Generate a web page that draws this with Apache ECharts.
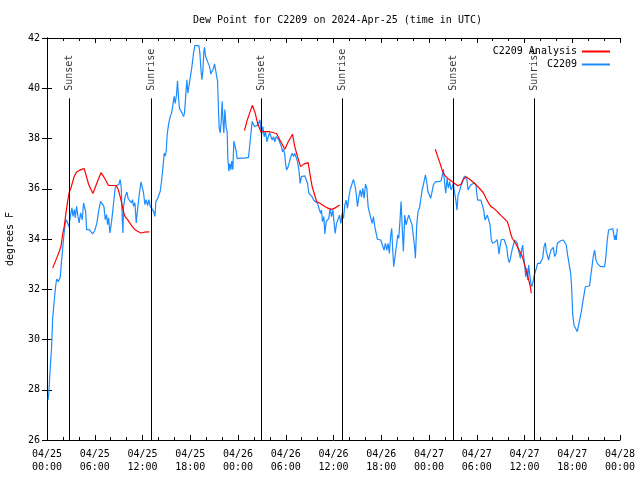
<!DOCTYPE html>
<html>
<head>
<meta charset="utf-8">
<script src="https://cdn.jsdelivr.net/npm/echarts@6/dist/echarts.min.js"></script>
<style>html,body{margin:0;padding:0;background:#fff}#c{width:640px;height:480px}</style>
</head>
<body>
<div id="c"></div>
<script>
// Hours since 2024-04-25 00:00 UTC
const xTickLabels = ['04/25\n00:00','04/25\n06:00','04/25\n12:00','04/25\n18:00','04/26\n00:00','04/26\n06:00','04/26\n12:00','04/26\n18:00','04/27\n00:00','04/27\n06:00','04/27\n12:00','04/27\n18:00','04/28\n00:00'];
const yTicks = [26,28,30,32,34,36,38,40,42];

const sunNames = ['Sunset','Sunrise','Sunset','Sunrise','Sunset','Sunrise'];
const sunHours = [2.8, 13.1, 26.93, 37.11, 51.06, 61.24];

const blueHours = [0.15,0.25,0.41,0.58,0.71,0.92,1.08,1.21,1.42,1.67,1.84,2.09,2.26,2.42,2.59,2.76,2.93,3.13,3.26,3.43,3.55,3.72,3.89,4.05,4.22,4.43,4.6,4.76,4.85,4.98,5.31,5.73,6.02,6.27,6.52,6.73,6.9,7.15,7.32,7.49,7.61,7.74,7.91,8.12,8.28,8.41,8.58,8.7,8.87,9.03,9.2,9.33,9.46,9.54,9.62,9.83,10.04,10.21,10.42,10.63,10.75,10.88,11.05,11.21,11.38,11.59,11.8,11.97,12.13,12.3,12.47,12.64,12.81,12.97,13.14,
13.39,13.56,13.68,13.89,14.1,14.23,14.39,14.56,14.73,14.85,14.98,15.1,15.27,15.48,15.65,15.82,15.98,16.11,16.28,16.4,16.53,16.65,16.82,16.99,17.16,17.28,17.41,17.57,17.7,17.87,17.99,18.16,18.29,18.41,18.58,19.08,19.21,19.33,19.46,19.58,19.71,19.79,19.92,20.09,20.25,20.42,20.59,20.76,20.92,21.05,21.3,21.43,21.55,21.63,21.76,21.89,22.01,22.1,22.22,22.35,22.51,22.64,22.72,22.85,22.97,23.1,23.22,23.35,23.48,23.6,23.77,23.9,24.27,24.9,25.32,25.44,25.61,25.78,25.9,26.07,26.28,26.45,
26.75,26.87,26.96,27.12,27.29,27.46,27.63,27.8,27.96,28.13,28.3,28.47,28.63,28.8,28.97,29.14,29.3,29.47,29.6,29.72,29.89,29.97,30.1,30.31,30.52,30.64,30.81,30.98,31.14,31.35,31.48,31.65,31.81,31.98,32.15,32.4,32.65,32.74,32.9,33.15,33.32,33.49,33.74,33.99,34.2,34.37,34.49,34.62,34.79,34.91,35.08,35.25,35.41,35.58,35.75,35.92,36.08,36.21,36.38,36.59,36.75,36.92,37.09,37.26,37.42,37.59,37.76,37.93,38.09,38.34,38.51,38.68,38.85,39.01,39.18,39.35,39.52,39.68,39.85,40.02,40.19,40.35,40.52,40.69,40.86,41.02,41.19,41.36,41.53,
41.68,41.94,42.19,42.35,42.52,42.69,42.86,43.02,43.19,43.32,43.44,43.57,43.78,43.95,44.07,44.2,44.36,44.49,44.62,44.78,44.95,45.12,45.28,45.45,45.7,45.87,46.04,46.21,46.29,46.46,46.62,46.79,46.96,47.13,47.29,47.46,47.55,47.71,47.88,48.05,48.21,48.38,48.55,48.8,49.22,49.51,49.64,49.81,49.97,50.1,50.27,50.43,50.6,50.77,50.94,51.06,51.23,51.4,51.52,51.65,51.81,51.98,52.15,52.32,52.48,52.65,52.78,52.9,53.07,53.24,53.49,53.74,53.91,53.99,54.12,54.53,54.7,54.87,55.04,55.16,55.33,55.5,55.67,55.83,56.0,
56.17,56.34,56.55,56.67,56.8,56.92,57.09,57.43,57.63,57.76,57.93,58.1,58.26,58.43,58.6,58.77,58.93,59.1,59.23,59.35,59.48,59.6,59.77,59.9,60.02,60.15,60.27,60.4,60.52,60.65,60.77,60.9,61.03,61.19,61.36,61.49,61.65,61.95,62.16,62.28,62.45,62.62,62.74,62.87,63.03,63.16,63.33,63.5,63.62,63.79,63.96,64.12,64.29,64.54,64.88,65.13,65.25,65.42,65.63,65.8,65.92,66.05,66.22,66.43,66.63,66.8,66.97,67.14,67.3,67.47,67.64,67.89,68.18,68.31,68.48,68.64,68.81,68.98,69.15,69.36,69.56,70.07,70.23,70.4,70.57,70.82,71.11,71.32,71.45,71.53,71.66];
const blueValues = [27.6,27.97,28.9,29.7,30.84,31.57,32.1,32.4,32.3,32.5,33.17,34.04,34.57,34.77,34.64,34.48,34.9,35.24,34.9,35.17,34.84,35.3,34.9,34.64,35.04,34.77,35.44,35.5,35.1,34.37,34.37,34.2,34.35,34.64,35.17,35.5,35.44,35.3,34.77,34.97,34.57,34.84,34.24,34.7,35.17,35.57,36.04,36.13,36.1,36.17,36.37,36.04,34.77,34.24,35.3,35.7,35.87,35.6,35.57,35.44,35.57,35.3,35.44,34.64,35.17,35.77,36.27,36.24,35.84,35.37,35.57,35.33,35.57,35.3,35.24,
35.1,34.9,35.5,35.6,35.63,35.9,36.3,36.83,37.42,37.3,37.5,38.15,38.55,38.88,39.0,39.35,39.68,39.4,39.75,40.3,39.6,39.2,39.15,39.0,38.88,39.0,39.6,40.34,39.8,39.8,40.4,40.74,41.07,41.4,41.7,41.7,41.4,40.8,40.34,40.67,41.47,41.63,41.27,41.2,41.0,40.87,40.57,40.57,40.8,40.97,40.97,40.28,39.15,38.42,38.22,38.68,39.48,38.82,38.22,39.15,38.42,38.28,37.22,36.7,37.0,36.76,37.1,36.76,37.9,37.9,37.5,37.2,37.22,37.22,37.25,37.62,38.15,38.68,38.62,38.48,38.42,38.52,
38.74,38.76,38.14,38.47,38.07,38.27,37.87,38.07,38.23,38.2,37.94,38.07,37.87,38.07,38.07,37.94,37.8,37.67,37.47,37.57,37.34,37.01,36.75,36.88,36.94,37.28,37.41,37.28,37.41,37.34,37.08,36.75,36.21,36.48,36.48,36.51,36.48,36.21,35.82,35.82,35.68,35.55,35.49,35.42,35.45,35.02,35.15,34.69,34.89,34.2,34.69,34.62,34.82,35.22,34.89,35.15,34.62,34.22,34.62,34.69,34.95,34.62,35.02,34.82,35.35,35.55,35.22,35.68,35.95,36.21,36.37,36.15,35.82,35.29,35.68,35.95,35.68,36.02,35.62,36.19,36.02,35.29,35.22,34.82,34.62,34.89,34.49,34.22,33.99,
34.0,33.96,33.92,33.56,33.83,33.56,33.83,33.43,34.16,34.42,33.56,32.9,32.9,33.83,34.16,34.03,34.76,35.49,34.56,33.5,34.95,34.56,34.76,34.95,34.92,34.56,34.09,33.63,33.23,34.56,35.09,35.22,35.55,35.95,36.15,36.22,36.55,36.28,35.88,35.88,35.62,35.88,36.15,36.28,36.28,36.31,36.48,36.77,36.22,35.82,36.41,36.02,36.28,35.95,36.08,36.22,35.82,35.49,35.15,35.75,35.88,36.08,36.22,36.41,36.51,36.55,36.35,35.95,36.02,36.15,36.15,36.24,36.15,35.84,35.55,35.55,35.49,35.15,34.76,34.82,34.95,34.95,34.56,33.96,33.83,
33.83,33.89,33.98,33.76,33.4,33.69,33.98,33.98,33.98,33.69,33.23,33.06,33.27,33.56,33.76,33.96,33.96,33.83,33.56,33.43,33.23,33.49,33.76,33.3,32.96,32.5,32.83,32.37,32.96,33.03,32.3,32.1,32.23,32.5,32.7,32.83,33.03,33.03,33.03,33.23,33.69,33.85,33.49,33.36,33.16,33.36,33.56,33.63,33.67,33.3,33.4,33.83,33.89,33.93,33.96,33.96,33.76,33.36,32.96,32.63,32.1,31.04,30.57,30.44,30.31,30.57,30.84,31.11,31.44,31.77,32.1,32.13,32.13,32.5,32.9,33.3,33.56,33.16,33.03,32.96,32.9,32.9,33.3,33.96,34.36,34.38,34.41,33.96,34.16,33.96,34.42];

// null value = gap in the analysis line
const redHours = [0.71,1.13,1.54,1.75,1.96,2.17,2.38,2.59,2.8,3.01,3.22,3.43,3.72,4.06,4.35,4.68,4.77,5.23,5.77,6.28,6.78,7.2,7.74,8.24,8.7,8.95,9.29,9.54,9.79,10.12,10.46,10.75,11.05,11.38,11.8,12.22,12.85,
18,
24.82,25.11,25.53,25.82,26.16,26.45,26.87,27.38,28.0,28.84,29.26,29.89,30.31,30.85,31.14,31.48,31.86,32.32,32.82,33.03,33.32,33.57,33.87,34.28,34.91,35.41,35.83,36.33,36.79,
42,
48.8,49.09,49.39,49.64,49.93,50.35,50.77,51.19,51.6,52.02,52.32,52.65,53.15,53.7,54.33,54.83,55.16,55.5,55.79,56.21,56.59,57.0,57.43,57.84,58.05,58.26,58.47,58.77,59.1,59.43,59.73,60.02,60.27,60.48,60.69,60.86];
const redValues = [32.84,33.17,33.5,33.7,34.17,34.5,35.04,35.5,35.87,36.04,36.27,36.5,36.67,36.73,36.77,36.8,36.75,36.17,35.81,36.24,36.64,36.44,36.13,36.13,36.13,35.97,35.57,35.17,34.9,34.77,34.61,34.48,34.37,34.31,34.24,34.27,34.28,
null,
38.31,38.68,39.08,39.32,39.01,38.62,38.27,38.27,38.27,38.2,37.94,37.57,37.87,38.17,37.67,37.28,36.88,36.99,37.04,36.61,36.08,35.82,35.49,35.42,35.29,35.21,35.18,35.26,35.35,
null,
37.57,37.28,37.01,36.75,36.55,36.41,36.32,36.22,36.12,36.18,36.37,36.48,36.37,36.22,36.02,35.84,35.62,35.42,35.29,35.2,35.09,34.95,34.82,34.69,34.49,34.22,34.02,33.89,33.69,33.49,33.3,32.96,32.7,32.43,32.17,31.84];

const FONT = 'DejaVu Sans Mono';
const pair = (hs, vs) => hs.map((h, i) => [h, vs[i] === null ? '-' : vs[i]]);
const sunTop = 39.6;

const chart = echarts.init(document.getElementById('c'), null, {renderer: 'canvas'});
const axisCommon = {
  axisLine: {show: true, lineStyle: {color: '#000', width: 1}},
  splitLine: {show: false}
};
chart.setOption({
  animation: false,
  backgroundColor: '#fff',
  title: {
    text: 'Dew Point for C2209 on 2024-Apr-25 (time in UTC)',
    left: 188, top: 10,
    textStyle: {fontFamily: FONT, fontSize: 10, fontWeight: 'normal', color: '#000'}
  },
  legend: {
    orient: 'vertical', right: 30, top: 46, align: 'right', padding: 0,
    itemWidth: 28, itemHeight: 2, itemGap: 2, icon: 'rect',
    data: ['C2209 Analysis', 'C2209'],
    textStyle: {fontFamily: FONT, fontSize: 10, color: '#000', lineHeight: 11}
  },
  grid: {left: 47, right: 20, top: 38, bottom: 40, containLabel: false, outerBoundsMode: 'none'},
  xAxis: [{
    type: 'value', min: 0, max: 72, interval: 6, position: 'bottom',
    ...axisCommon,
    axisTick: {show: true, inside: true, length: 5, lineStyle: {color: '#000'}},
    minorTick: {show: true, splitNumber: 3, length: 3, lineStyle: {color: '#000'}},
    minorSplitLine: {show: false},
    axisLabel: {
      show: true, margin: 8, color: '#000', fontFamily: FONT, fontSize: 10, lineHeight: 13,
      formatter: v => xTickLabels[Math.round(v / 6)]
    }
  }, {
    type: 'value', min: 0, max: 72, interval: 6, position: 'top',
    ...axisCommon,
    axisTick: {show: true, inside: true, length: 5, lineStyle: {color: '#000'}},
    minorTick: {show: true, splitNumber: 3, length: 3, lineStyle: {color: '#000'}},
    axisLabel: {show: false}
  }],
  yAxis: [{
    type: 'value', min: yTicks[0], max: yTicks[yTicks.length - 1], interval: 2, position: 'left',
    name: 'degrees F', nameLocation: 'middle', nameGap: 32, nameRotate: 90,
    nameTextStyle: {fontFamily: FONT, fontSize: 10, color: '#000'},
    ...axisCommon,
    axisTick: {show: true, inside: true, length: 5, lineStyle: {color: '#000'}},
    axisLabel: {show: true, margin: 7, color: '#000', fontFamily: FONT, fontSize: 10}
  }, {
    type: 'value', min: yTicks[0], max: yTicks[yTicks.length - 1], interval: 2, position: 'right',
    ...axisCommon,
    axisTick: {show: true, inside: true, length: 5, lineStyle: {color: '#000'}},
    axisLabel: {show: false}
  }],
  series: [{
    name: 'sun', type: 'scatter', xAxisIndex: 0, yAxisIndex: 0,
    symbolSize: 1, itemStyle: {color: 'rgba(0,0,0,0)'},
    data: sunHours.map((h, i) => ({name: sunNames[i], value: [h, sunTop]})),
    label: {
      show: true, formatter: p => p.name, position: 'top', distance: 7,
      rotate: 90, align: 'left', verticalAlign: 'middle',
      fontFamily: FONT, fontSize: 10, color: '#000'
    },
    markLine: {
      silent: true, symbol: 'none', animation: false,
      label: {show: false},
      lineStyle: {color: '#000', width: 1, type: 'solid'},
      data: sunHours.map(h => [{coord: [h, sunTop]}, {coord: [h, yTicks[0]]}])
    },
    z: 1
  }, {
    name: 'C2209 Analysis', type: 'line', xAxisIndex: 0, yAxisIndex: 0,
    data: pair(redHours, redValues), showSymbol: false, symbol: 'none',
    connectNulls: false,
    lineStyle: {color: '#ff0000', width: 1.2}, itemStyle: {color: '#ff0000'}, z: 3
  }, {
    name: 'C2209', type: 'line', xAxisIndex: 0, yAxisIndex: 0,
    data: pair(blueHours, blueValues), showSymbol: false, symbol: 'none',
    lineStyle: {color: '#1a8cff', width: 1.2}, itemStyle: {color: '#1a8cff'}, z: 2
  }]
});
</script>
</body>
</html>
